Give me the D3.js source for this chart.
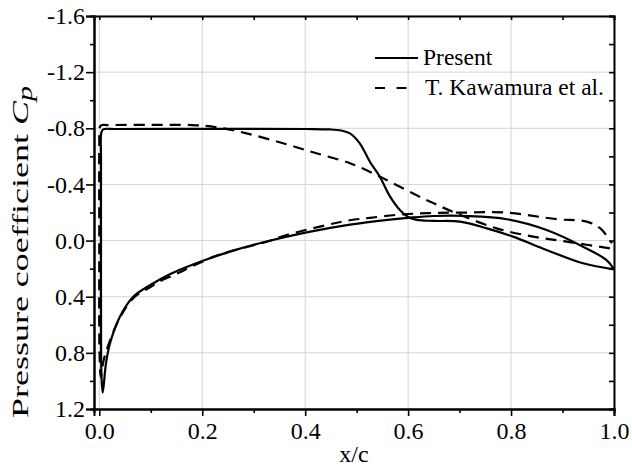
<!DOCTYPE html>
<html>
<head>
<meta charset="utf-8">
<script src="https://cdn.jsdelivr.net/npm/d3@7"></script>
<style>
  body { margin: 0; background: #fff; }
  text { font-family: "Liberation Serif", "Times New Roman", serif; fill: #000; }
  .grid line { stroke: #d4d4d4; stroke-width: 1; }
  .axis path, .axis line { stroke: #000; }
  .axis path { stroke-width: 2; }
  .axis line { stroke-width: 1.6; }
</style>
</head>
<body>
<div id="container"></div>
<script>
"use strict";
// Cp distribution, upper and lower surface
// each entry is [x/c, Cp]
const presentUpper = [[0.0066,1.084],[0.0042,0.96],[0.0034,0.70],[0.0033,0.00],[0.0033,-0.60],
    [0.0037,-0.765],[0.0075,-0.792],[0.03,-0.795],[0.20,-0.796],[0.40,-0.795],[0.448,-0.792],
    [0.470,-0.784],[0.487,-0.764],[0.506,-0.693],[0.526,-0.560],[0.545,-0.455],[0.565,-0.313],
    [0.584,-0.218],[0.600,-0.168],[0.617,-0.147],[0.650,-0.140],[0.701,-0.135],[0.753,-0.087],
    [0.804,-0.028],[0.869,0.067],[0.940,0.162],[1.000,0.205]];
const presentLower = [[0.0066,1.084],[0.013,0.874],[0.0208,0.732],[0.040,0.542],[0.066,0.400],
    [0.100,0.315],[0.137,0.240],[0.200,0.146],[0.254,0.079],[0.319,0.012],[0.400,-0.057],
    [0.487,-0.114],[0.560,-0.148],[0.600,-0.162],[0.649,-0.175],[0.714,-0.175],[0.792,-0.152],
    [0.869,-0.075],[0.940,0.044],[0.985,0.138],[1.000,0.205]];
const kawamuraUpper = [[0.003,0.97],[0.0005,0.80],[0.0,0.0],[0.0,-0.70],[0.0008,-0.806],
    [0.004,-0.822],[0.015,-0.823],[0.10,-0.824],[0.18,-0.823],[0.228,-0.807],[0.286,-0.764],
    [0.357,-0.693],[0.422,-0.622],[0.487,-0.551],[0.539,-0.467],[0.565,-0.419],[0.629,-0.301],
    [0.694,-0.194],[0.772,-0.087],[0.843,-0.028],[0.908,0.008],[0.992,0.055]];
const kawamuraLower = [[0.003,0.97],[0.008,0.86],[0.018,0.74],[0.040,0.55],[0.066,0.41],
    [0.100,0.33],[0.115,0.295],[0.150,0.237],[0.189,0.169],[0.231,0.103],[0.325,0.008],
    [0.364,-0.040],[0.442,-0.111],[0.487,-0.145],[0.526,-0.162],[0.584,-0.185],[0.640,-0.196],
    [0.701,-0.199],[0.792,-0.199],[0.889,-0.152],[0.947,-0.135],[0.973,-0.088],[0.996,0.019]];

const xMajor = [0, 0.2, 0.4, 0.6, 0.8, 1.0];
const xMinor = [0.1, 0.3, 0.5, 0.7, 0.9];
const yMajor = [-1.6, -1.2, -0.8, -0.4, 0, 0.4, 0.8, 1.2];
const yMinor = [-1.4, -1.0, -0.6, -0.2, 0.2, 0.6, 1.0];
const legendNames = ["Present", "T. Kawamura et al."];

const W = 632, H = 468;
const margin = {top: 16, right: 18, bottom: 59, left: 94};

const svg = d3.select("#container").append("svg")
    .attr("width", W)
    .attr("height", H);

const x = d3.scaleLinear().domain([-0.0103, 1.0]).range([margin.left, W - margin.right]);
const y = d3.scaleLinear().domain([-1.6, 1.2]).range([margin.top, H - margin.bottom]);

const fmt = d => d.toFixed(1);   // keep the plain hyphen, not d3's minus sign

// grid
const grid = svg.append("g").attr("class", "grid");
grid.selectAll(".gx").data(xMajor).enter().append("line")
    .attr("x1", d => x(d)).attr("x2", d => x(d))
    .attr("y1", y.range()[0]).attr("y2", y.range()[1]);
grid.selectAll(".gy").data(yMajor).enter().append("line")
    .attr("x1", x.range()[0]).attr("x2", x.range()[1])
    .attr("y1", d => y(d)).attr("y2", d => y(d));

// curves
const line = d3.line()
    .x(d => x(d[0]))
    .y(d => y(d[1]))
    .curve(d3.curveCatmullRom.alpha(0.5));

const present = presentUpper.slice().reverse().concat(presentLower.slice(1));
const kawamura = kawamuraUpper.slice().reverse().concat(kawamuraLower.slice(1));

svg.append("path")
    .datum(kawamura)
    .attr("fill", "none")
    .attr("stroke", "#000")
    .attr("stroke-width", 2.2)
    .attr("stroke-dasharray", "11,7")
    .attr("d", line);

svg.append("path")
    .datum(present)
    .attr("fill", "none")
    .attr("stroke", "#000")
    .attr("stroke-width", 2.2)
    .attr("d", line);

// axes
const styleAxis = g => g.attr("class", "axis")
    .style("font-family", "Liberation Serif")
    .style("font-size", "24px");

svg.append("g")
    .attr("transform", `translate(0,${y.range()[1]})`)
    .call(d3.axisBottom(x).tickValues(xMajor).tickFormat(fmt).tickSize(7).tickPadding(6))
    .call(styleAxis);
svg.append("g")
    .attr("transform", `translate(0,${y.range()[1]})`)
    .call(d3.axisBottom(x).tickValues(xMinor).tickFormat("").tickSize(4))
    .call(styleAxis);

svg.append("g")
    .attr("transform", `translate(${x.range()[0]},0)`)
    .call(d3.axisLeft(y).tickValues(yMajor).tickFormat(fmt).tickSize(8).tickPadding(1))
    .call(styleAxis);
svg.append("g")
    .attr("transform", `translate(${x.range()[0]},0)`)
    .call(d3.axisLeft(y).tickValues(yMinor).tickFormat("").tickSize(4))
    .call(styleAxis);

// top and right frame with inward ticks
svg.append("g")
    .attr("transform", `translate(0,${y.range()[0]})`)
    .call(d3.axisTop(x).tickValues(xMajor.concat(xMinor)).tickFormat("").tickSize(-4))
    .call(styleAxis);
svg.append("g")
    .attr("transform", `translate(${x.range()[1]},0)`)
    .call(d3.axisRight(y).tickValues(yMajor.concat(yMinor)).tickFormat("").tickSize(-5))
    .call(styleAxis);

// axis titles
svg.append("text")
    .attr("x", (x.range()[0] + x.range()[1]) / 2)
    .attr("y", 462)
    .attr("text-anchor", "middle")
    .style("font-size", "24px")
    .text("x/c");

const yTitle = svg.append("text")
    .attr("transform", "translate(28,252) rotate(-90) scale(1.5,1)")
    .attr("text-anchor", "middle")
    .style("font-size", "24px");
yTitle.append("tspan").text("Pressure coefficient ");
yTitle.append("tspan").style("font-style", "italic").text("C");
yTitle.append("tspan").style("font-style", "italic").style("font-size", "20px")
    .attr("dy", 4).text("p");

// legend
const legend = svg.append("g").attr("class", "legend");
const legendRows = [
    {name: legendNames[0], y: 58, x2: 418, dash: null, tx: 423},
    {name: legendNames[1], y: 88, x2: 408, dash: "10,11.5", tx: 425}
];
legend.selectAll("line").data(legendRows).enter().append("line")
    .attr("x1", 375).attr("x2", d => d.x2)
    .attr("y1", d => d.y).attr("y2", d => d.y)
    .attr("stroke", "#000")
    .attr("stroke-width", 2.2)
    .attr("stroke-dasharray", d => d.dash);
legend.selectAll("text").data(legendRows).enter().append("text")
    .attr("x", d => d.tx)
    .attr("y", d => d.y + 7)
    .style("font-size", "23.5px")
    .text(d => d.name);
</script>
</body>
</html>
